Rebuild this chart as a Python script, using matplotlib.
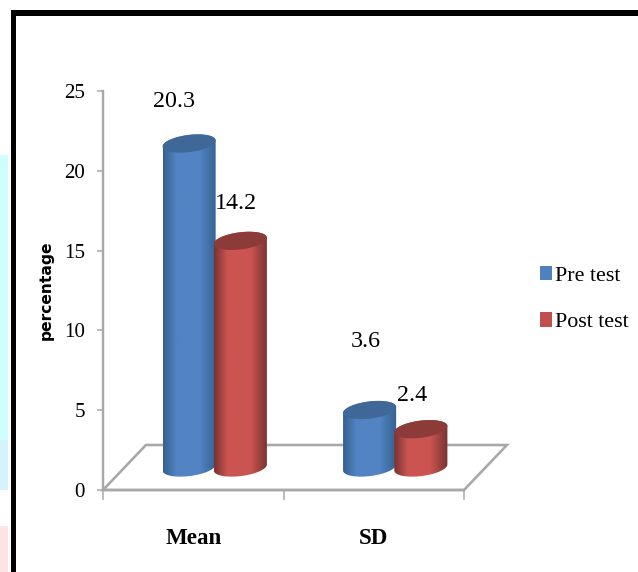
import numpy as np
import matplotlib
matplotlib.use("Agg")
import matplotlib.pyplot as plt
from matplotlib.patches import Polygon, Rectangle, Patch
from matplotlib.colors import LinearSegmentedColormap

categories = ["Mean", "SD"]
series_names = ["Pre test", "Post test"]
pre_test = [20.3, 3.6]
post_test = [14.2, 2.4]
y_ticks = [0, 5, 10, 15, 20, 25]

W, H = 638, 572
plt.rcParams["font.family"] = ["Liberation Serif", "DejaVu Serif"]
fig = plt.figure(figsize=(W / 100, H / 100), dpi=100, facecolor="white")


def px(size):
    return size * 0.72


# Page decoration behind the chart
for x0, y0, x1, y1, col in [(0, 155, 8, 440, "#ccffff"), (0, 440, 8, 490, "#d6f3fb"),
                            (0, 526, 8, 572, "#ffe3e3")]:
    fig.add_artist(Rectangle((x0 / W, 1 - y1 / H), (x1 - x0) / W, (y1 - y0) / H,
                             transform=fig.transFigure, fc=col, ec="none"))
fig.add_artist(Rectangle((11 / W, 0), 5 / W, 1 - 10 / H, transform=fig.transFigure, fc="black", ec="none"))
fig.add_artist(Rectangle((11 / W, 1 - 16 / H), 1 - 11 / W, 6 / H, transform=fig.transFigure, fc="black", ec="none"))

ax = fig.add_axes([103 / W, 1 - 490 / H, (464 - 103) / W, (490 - 91) / H])
ax.patch.set_alpha(0)
ax.set_xlim(-0.5, 1.5)
ax.set_ylim(0, 25)

GRAY = "#a8a8a8"
DEPTH_X, DEPTH_Y = 0.238, 2.82
BAR_W, SERIES_OFF = 0.294, 0.142
ELL_B, ELL_S = 0.54, 0.19

# Floor
xl, xr = ax.get_xlim()
ax.add_patch(Polygon([(xl, 0), (xr, 0), (xr + DEPTH_X, DEPTH_Y), (xl + DEPTH_X, DEPTH_Y)], closed=True,
                     fc="white", ec=GRAY, lw=px(2.6), clip_on=False, zorder=1))

for s in ["top", "right"]:
    ax.spines[s].set_visible(False)
for s in ["left", "bottom"]:
    ax.spines[s].set_color(GRAY)
    ax.spines[s].set_linewidth(px(2.4))
    ax.spines[s].set_zorder(2)

ax.set_yticks(y_ticks)
ax.tick_params(axis="y", color=GRAY, width=px(1.5), length=px(6), labelsize=px(21), pad=px(12))
ax.set_xticks(range(len(categories)), categories, fontweight="bold")
ax.tick_params(axis="x", length=0, labelsize=px(23), pad=px(38))
ax.set_xticks([-0.5, 0.5, 1.5], minor=True)
ax.tick_params(axis="x", which="minor", color=GRAY, width=px(1.5), length=px(10))
ax.set_ylabel("percentage", family="DejaVu Sans", fontweight="bold", fontsize=px(15.5))
ax.yaxis.label.set_va("center")
ax.yaxis.set_label_coords((46 - 103) / (464 - 103), (490 - 290) / 399)


def ell(cx, cy, t):
    return np.column_stack([cx + BAR_W / 2 * np.cos(t), cy + ELL_B * np.sin(t) + ELL_S * np.cos(t)])


def cylinder(cx, value, dark, mid, cap, z):
    base = DEPTH_Y / 2
    top = base + value
    front = ell(cx, base, np.linspace(np.pi, 2 * np.pi, 60))
    back = ell(cx, top, np.linspace(0, np.pi, 60))
    body = Polygon(np.vstack([front, back]), closed=True, fc="none", ec="none", clip_on=False, zorder=z)
    ax.add_patch(body)
    cmap = LinearSegmentedColormap.from_list("c", [(0, dark), (0.25, mid), (0.68, mid), (1, dark)])
    im = ax.imshow(np.linspace(0, 1, 128)[None, :], cmap=cmap, aspect="auto", zorder=z, clip_on=True,
                   extent=(cx - BAR_W / 2, cx + BAR_W / 2, base - 1.5, top + 1.5))
    im.set_clip_path(body)
    ax.add_patch(Polygon(ell(cx, top, np.linspace(0, 2 * np.pi, 120)), closed=True, fc=cap, ec="none",
                         clip_on=False, zorder=z + 0.1))
    return top


label_offsets = {(0, 0): (-15, 42), (0, 1): (-4, 37), (1, 0): (-4, 69), (1, 1): (-9, 34)}
styles = [("#36608f", "#5284c4", "#3f6797"), ("#763331", "#cb5451", "#8d3b39")]
for j, vals in enumerate([pre_test, post_test]):
    for i, v in enumerate(vals):
        cx = i + DEPTH_X / 2 + (j - 0.5) * 2 * SERIES_OFF
        top = cylinder(cx, v, *styles[j], z=5 + j + i)
        ax.annotate(f"{v}", (cx, top), xytext=label_offsets[(i, j)], textcoords="offset pixels",
                    ha="center", va="center", fontsize=px(24), color="black", zorder=20,
                    annotation_clip=False)
ax.set_xlim(xl, xr)
ax.set_ylim(0, 25)

handles = [Patch(fc="#4f81bd", ec="none"), Patch(fc="#c0504d", ec="none")]
fig.legend(handles, series_names, loc="center left", bbox_to_anchor=(540 / W, 1 - 299 / H), frameon=False,
           fontsize=px(22), handlelength=0.55, handleheight=0.65, handletextpad=0.15, labelspacing=1.2,
           borderpad=0, borderaxespad=0)

fig.savefig("out.png", dpi=100)
